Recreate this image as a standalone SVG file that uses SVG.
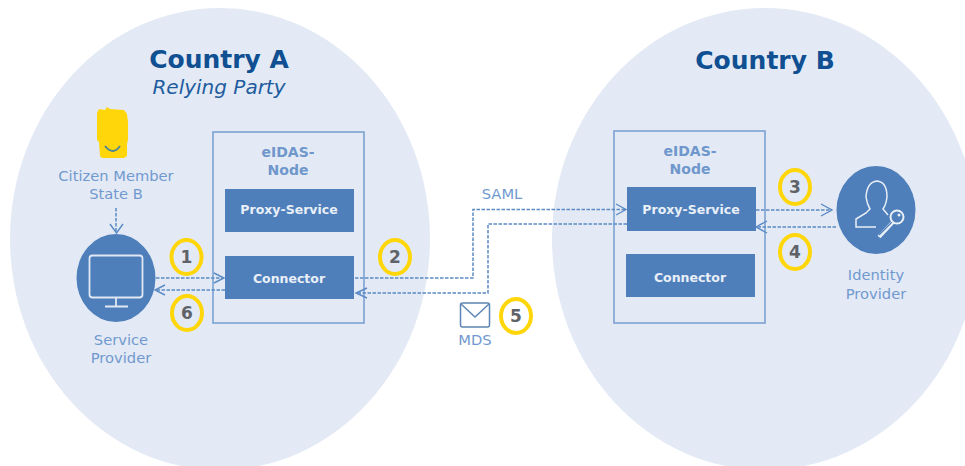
<svg xmlns="http://www.w3.org/2000/svg" width="965" height="466" viewBox="0 0 965 466">
<style>
text{font-family:"DejaVu Sans","Liberation Sans",sans-serif}
.c{fill:#e3eaf5}
.nb{fill:none;stroke:#7ba2d2;stroke-width:1.6}
.box{fill:#4e7fbb}
.bt{fill:#e9eff7;font-size:12.500px;font-weight:700;text-anchor:middle}
.nt{fill:#6f97cc;font-size:14px;font-weight:700;text-anchor:middle}
.lb{fill:#7199cf;font-size:14.700px;text-anchor:middle}
.h{fill:#0f4f92;font-size:25px;font-weight:700;text-anchor:middle}
.ring{fill:none;stroke:#ffd60a;stroke-width:4}
.num{fill:#5f6368;font-size:17px;font-weight:700;text-anchor:middle}
.d{fill:none;stroke:#5b8ac4;stroke-width:1.500;stroke-dasharray:3.500 1.500}
.ah{fill:none;stroke:#5b8ac4;stroke-width:1.400}
.k{fill:none;stroke:#e9eff7;stroke-width:1.500}
</style>
<rect width="965" height="466" fill="#fff"/>
<g id="country-a"><ellipse class="c" cx="220" cy="239" rx="210" ry="231"/>
<text class="h" x="219" y="68">Country A</text>
<text x="219" y="94" fill="#1f5c9e" font-size="20" font-style="italic" text-anchor="middle">Relying Party</text></g>
<g id="country-b"><ellipse class="c" cx="765" cy="239" rx="213" ry="231"/>
<text class="h" x="765" y="69">Country B</text></g>
<g id="node-a"><rect class="nb" x="213" y="132" width="151" height="191"/>
<text class="nt" x="288" y="157">eIDAS-</text><text class="nt" x="288" y="175">Node</text>
<g id="proxy-a"><rect class="box" x="225" y="189" width="129" height="43"/><text class="bt" x="289" y="214">Proxy-Service</text></g>
<g id="connector-a"><rect class="box" x="225" y="256" width="129" height="43"/><text class="bt" x="289" y="283">Connector</text></g></g>
<g id="node-b"><rect class="nb" x="614" y="131" width="151" height="192"/>
<text class="nt" x="690" y="156">eIDAS-</text><text class="nt" x="690" y="174">Node</text>
<g id="proxy-b"><rect class="box" x="627" y="187" width="129" height="44"/><text class="bt" x="691" y="214">Proxy-Service</text></g>
<g id="connector-b"><rect class="box" x="626" y="254" width="129" height="43"/><text class="bt" x="690" y="282">Connector</text></g></g>
<g id="connectors">
<path class="d" d="M116 208V233"/><path class="ah" d="M110 224L116.500 233L123 224"/>
<path class="d" d="M156 278H224"/><path class="ah" d="M214 273L224 278L214 283"/>
<path class="d" d="M225 290H156"/><path class="ah" d="M165 285L155 290L165 295"/>
<path class="d" d="M355 278H473V209.500H625"/><path class="ah" d="M616 204L626 209.500L616 215"/>
<path class="d" d="M627 224H488V293H357"/><path class="ah" d="M367 288L356 293L367 298"/>
<path class="d" d="M756 210H832"/><path class="ah" d="M821 204L832 210L821 216"/>
<path class="d" d="M836 227H757"/><path class="ah" d="M767 221L756 227L767 233"/>
</g>
<g id="citizen"><path d="M97 113L99 109L105 110L107 107L110 109L124 110L127 114L128 122L128 140L127 144V156L124 158H102L100 156L99 142L97 140Z" fill="#ffd60a"/>
<path d="M105 146Q113 156 120 146" fill="none" stroke="#4f8598" stroke-width="2"/>
<text class="lb" x="116" y="181">Citizen Member</text><text class="lb" x="116" y="199">State B</text></g>
<g id="service-provider"><ellipse class="box" cx="116" cy="278" rx="39.500" ry="44"/>
<rect x="89.500" y="255.500" width="53" height="42" rx="3" fill="none" stroke="#dfe8f3" stroke-width="1.800"/>
<path d="M116 298V306M105 306.500H128" fill="none" stroke="#dfe8f3" stroke-width="1.800"/>
<text class="lb" x="121" y="345">Service</text><text class="lb" x="121" y="363">Provider</text></g>
<g id="identity-provider"><ellipse class="box" cx="876" cy="210" rx="39.500" ry="44"/>
<path class="k" d="M876 227H856V219L866 213L870 209Q867 204 866 197Q867 182 877 181Q887 182 887 197Q886 205 883 209L888 215"/>
<path d="M879 237L893 222" fill="none" stroke="#e9eff7" stroke-width="4"/>
<path d="M879 235L892 222" fill="none" stroke="#4e7fbb" stroke-width="1.200"/>
<circle cx="897" cy="217" r="6.500" fill="#4e7fbb" stroke="#e9eff7" stroke-width="2"/>
<circle cx="899" cy="215" r="1.500" fill="#e9eff7"/>
<text class="lb" x="876" y="280">Identity</text><text class="lb" x="876" y="299">Provider</text></g>
<g id="mds"><rect x="460.500" y="303" width="29" height="24" rx="2" fill="none" stroke="#5d85b5" stroke-width="1.500"/>
<path d="M461 304L475 317L489 304" fill="none" stroke="#5d85b5" stroke-width="1.500"/>
<text class="lb" x="475" y="345">MDS</text></g>
<text class="lb" x="502" y="199">SAML</text>
<g id="step-1"><ellipse class="ring" cx="186.500" cy="257" rx="15" ry="17"/><text class="num" x="186.500" y="263">1</text></g>
<g id="step-6"><ellipse class="ring" cx="187" cy="313" rx="15" ry="17"/><text class="num" x="187" y="319">6</text></g>
<g id="step-2"><ellipse class="ring" cx="395" cy="257" rx="15" ry="17"/><text class="num" x="395" y="263">2</text></g>
<g id="step-5"><ellipse class="ring" cx="516" cy="316" rx="15" ry="17"/><text class="num" x="516" y="322">5</text></g>
<g id="step-3"><ellipse class="ring" cx="795" cy="187" rx="15" ry="17"/><text class="num" x="795" y="193">3</text></g>
<g id="step-4"><ellipse class="ring" cx="795" cy="252" rx="15" ry="17"/><text class="num" x="795" y="258">4</text></g>
</svg>
